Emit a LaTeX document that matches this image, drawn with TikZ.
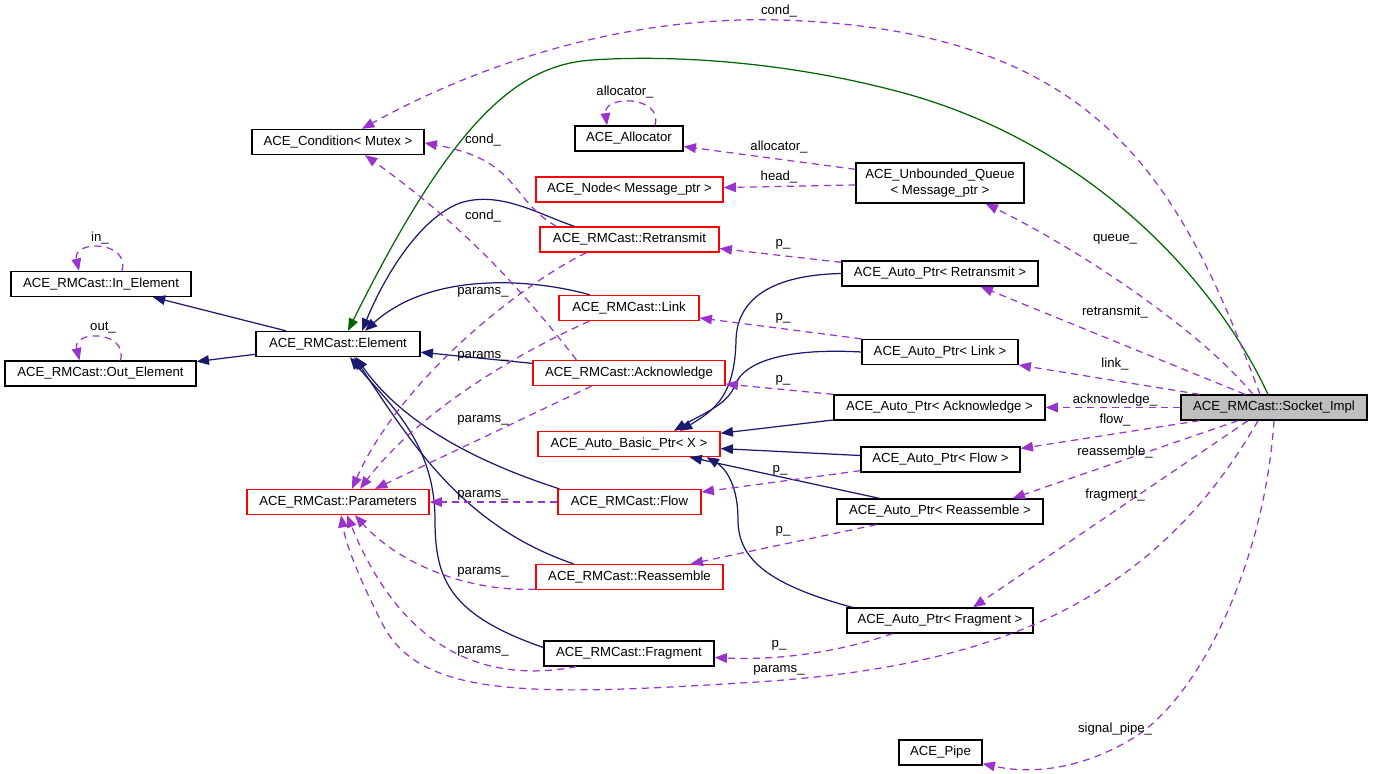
\documentclass[tikz,border=0pt]{standalone}
\usepackage{fontspec}
\setmainfont{Liberation Sans}
\usepackage{tikz}
\usetikzlibrary{arrows.meta,calc}
\definecolor{edgeblue}{RGB}{25,25,112}
\definecolor{edgepurple}{RGB}{154,50,205}
\definecolor{edgegreen}{RGB}{0,100,0}
\definecolor{boxred}{RGB}{255,0,0}
\definecolor{boxgray}{RGB}{191,191,191}

\begin{document}
\begin{tikzpicture}[x=0.02cm,y=-0.02cm,
		every node/.style={font=\fontsize{7.5}{9}\selectfont},
		cls/.style={draw=black,line width=0.75pt,minimum height=0.5cm,inner sep=0pt},
		redcls/.style={cls,draw=boxred},
		lbl/.style={inner sep=0pt},
		inh/.style={edgeblue,line width=0.7pt,-{Triangle[length=7pt,width=5.5pt]}},
		usage/.style={edgegreen,line width=0.7pt,-{Triangle[length=7pt,width=5.5pt]}},
		dep/.style={edgepurple,line width=0.7pt,dash pattern=on 4pt off 3pt,-{Triangle[length=7pt,width=5.5pt]}}]
			\useasboundingbox (0,0) rectangle (1373,774);
			% classes
			\node[cls,minimum width=3.44cm] (cond) at (338,142) {ACE\_Condition< Mutex >};
			\node[cls,minimum width=2.16cm] (alloc) at (629,138.5) {ACE\_Allocator};
			\node[redcls,minimum width=3.74cm] (msgnode) at (629.5,189.5) {ACE\_Node< Message\_ptr >};
			\node[redcls,minimum width=3.58cm] (retr) at (629.5,239.5) {ACE\_RMCast::Retransmit};
			\node[cls,minimum width=3.36cm,minimum height=0.8cm,align=center] (uq) at (940,183) {ACE\_Unbounded\_Queue\\< Message\_ptr >};
			\node[cls,minimum width=3.92cm] (apretr) at (940,273.5) {ACE\_Auto\_Ptr< Retransmit >};
			\node[redcls,minimum width=2.8cm] (link) at (629,308) {ACE\_RMCast::Link};
			\node[cls,minimum width=3.12cm] (aplink) at (940,352) {ACE\_Auto\_Ptr< Link >};
			\node[redcls,minimum width=3.84cm] (ack) at (629,373) {ACE\_RMCast::Acknowledge};
			\node[cls,minimum width=4.22cm] (apack) at (939.5,407.5) {ACE\_Auto\_Ptr< Acknowledge >};
			\node[redcls,minimum width=3.64cm] (abp) at (629,444) {ACE\_Auto\_Basic\_Ptr< X >};
			\node[cls,minimum width=3.18cm] (apflow) at (940.5,459.5) {ACE\_Auto\_Ptr< Flow >};
			\node[redcls,minimum width=2.86cm] (flow) at (629.5,502) {ACE\_RMCast::Flow};
			\node[redcls,minimum width=3.64cm] (params) at (338,502) {ACE\_RMCast::Parameters};
			\node[cls,minimum width=4.12cm] (apreas) at (940,511.5) {ACE\_Auto\_Ptr< Reassemble >};
			\node[redcls,minimum width=3.74cm] (reas) at (629.5,577) {ACE\_RMCast::Reassemble};
			\node[cls,minimum width=3.72cm] (apfrag) at (940,620.5) {ACE\_Auto\_Ptr< Fragment >};
			\node[cls,minimum width=3.4cm] (frag) at (629,653.5) {ACE\_RMCast::Fragment};
			\node[cls,minimum width=1.66cm] (pipe) at (940.5,752.5) {ACE\_Pipe};
			\node[cls,fill=boxgray,minimum width=3.72cm] (sock) at (1274,407.5) {ACE\_RMCast::Socket\_Impl};
			\node[cls,minimum width=3.28cm] (elem) at (338,344) {ACE\_RMCast::Element};
			\node[cls,minimum width=3.6cm] (inel) at (101,284) {ACE\_RMCast::In\_Element};
			\node[cls,minimum width=3.82cm] (outel) at (100.5,373.5) {ACE\_RMCast::Out\_Element};

			% inheritance
			\draw[usage] ($(sock.north)+(-6,0)$) .. controls (1210,270) and (1080,140) .. (900,92) .. controls (780,60) and (665,55) .. (592,60) .. controls (520,65) and (455,115) .. ($(elem.north)+(10,0)$);
			\draw[inh] (elem) -- (inel);
			\draw[inh] (elem) -- (outel);
			\draw[inh] ($(retr.north)+(-55,0)$) .. controls (540,215) and (500,190) .. (460,203) .. controls (420,218) and (385,275) .. ($(elem.north)+(24,0)$);
			\draw[inh] ($(link.north)+(-39,0)$) .. controls (530,278) and (430,272) .. ($(elem.north)+(27,0)$);
			\draw[inh] (ack) -- (elem);
			\draw[inh] ($(flow.north west)+(2,0)$) .. controls (470,460) and (400,420) .. ($(elem.south)+(18,0)$);
			\draw[inh] ($(reas.north)+(-56,0)$) .. controls (460,525) and (410,440) .. ($(elem.south)+(16,0)$);
			\draw[inh] ($(frag.west)+(0,-6)$) .. controls (450,615) and (435,580) .. (435,520) .. controls (435,440) and (385,400) .. ($(elem.south)+(12,0)$);
			\draw[inh] (apretr.west) .. controls (770,275) and (737,300) .. (736,340) .. controls (735,395) and (715,410) .. ($(abp.north)+(51,0)$);
			\draw[inh] (aplink.west) .. controls (790,348) and (745,360) .. (735,385) .. controls (728,405) and (700,415) .. ($(abp.north)+(45,0)$);
			\draw[inh] (apack) -- (abp);
			\draw[inh] (apflow) -- (abp);
			\draw[inh] (apreas) -- (abp);
			\draw[inh] ($(apfrag.north west)+(6,0)$) .. controls (770,585) and (738,560) .. (738,520) .. controls (738,480) and (722,466) .. ($(abp.south east)+(-14,0)$);

			% self loops
			\draw[dep] ($(inel.north)+(21,0)$) .. controls (130,240) and (72,240) .. ($(inel.north)+(-22,0)$);
			\draw[dep] ($(outel.north)+(20,0)$) .. controls (128,330) and (72,330) .. ($(outel.north)+(-21,0)$);
			\draw[dep] ($(alloc.north)+(26,0)$) .. controls (663,95) and (603,95) .. ($(alloc.north)+(-22,0)$);

			% members
			\draw[dep] ($(sock.north)+(-14,0)$) .. controls (1180,180) and (1100,30) .. (780,20) .. controls (600,15) and (450,80) .. ($(cond.north)+(24,0)$);
			\draw[dep] ($(retr.north west)+(17,0)$) .. controls (510,200) and (520,160) .. ($(cond.east)+(0,1)$);
			\draw[dep] ($(ack.north west)+(44,0)$) .. controls (530,300) and (470,230) .. ($(cond.south)+(27,0)$);
			\draw[dep] ($(uq.north west)+(0,7)$) -- ($(alloc.east)+(0,8)$);
			\draw[dep] ($(uq.west)+(0,2)$) -- ($(msgnode.east)+(0,-2)$);
			\draw[dep] ($(apretr.north west)+(0,2)$) -- ($(retr.east)+(0,9)$);
			\draw[dep] (aplink.north west) -- ($(link.east)+(0,10)$);
			\draw[dep] (apack.north west) -- ($(ack.east)+(0,11)$);
			\draw[dep] ($(apflow.south west)+(0,-2)$) -- ($(flow.east)+(0,-10)$);
			\draw[dep] ($(apreas.south west)+(40,0)$) -- ($(reas.north east)+(-33,0)$);
			\draw[dep] ($(apfrag.south west)+(46,0)$) .. controls (830,655) and (770,660) .. ($(frag.east)+(0,4)$);
			\draw[dep] ($(retr.south west)+(47,0)$) .. controls (520,285) and (400,380) .. ($(params.north)+(14,0)$);
			\draw[dep] ($(link.south west)+(31,0)$) .. controls (520,352) and (420,410) .. ($(params.north)+(22,0)$);
			\draw[dep] ($(ack.south west)+(59,0)$) -- ($(params.north)+(37,0)$);
			\draw[dep] (flow.west) -- (params.east);
			\draw[dep] ($(reas.south west)+(0,-1)$) .. controls (470,592) and (400,565) .. ($(params.south)+(17,0)$);
			\draw[dep] ($(frag.south west)+(33,0)$) .. controls (480,685) and (400,645) .. ($(params.south)+(9,0)$);
			\draw[dep] ($(sock.south)+(-16,0)$) .. controls (1150,610) and (980,670) .. (740,683) .. controls (520,697) and (420,695) .. (383,625) .. controls (365,590) and (347,550) .. ($(params.south)+(3,0)$);
			\draw[dep] ($(sock.north)+(-21,0)$) .. controls (1200,330) and (1080,250) .. ($(uq.south east)+(-39,0)$);
			\draw[dep] ($(sock.north)+(-29,0)$) -- ($(apretr.south east)+(-58,0)$);
			\draw[dep] ($(sock.north west)+(19,0)$) -- ($(aplink.east)+(0,13)$);
			\draw[dep] (sock.west) -- (apack.east);
			\draw[dep] ($(sock.south west)+(19,0)$) -- ($(apflow.east)+(0,-11)$);
			\draw[dep] ($(sock.south)+(-36,0)$) -- ($(apreas.north east)+(-31,0)$);
			\draw[dep] ($(sock.south)+(-26,0)$) -- ($(apfrag.north)+(33,0)$);
			\draw[dep] (sock.south) .. controls (1265,560) and (1200,700) .. (1130,740) .. controls (1070,775) and (1020,772) .. ($(pipe.south east)+(0,-2)$);

			% labels
			\node[lbl] (l_in) at (100,238) {in\_};
			\node[lbl] (l_out) at (103,328) {out\_};
			\node[lbl] (l_alloc1) at (625,92) {allocator\_};
			\node[lbl] (l_cond1) at (779,11) {cond\_};
			\node[lbl] (l_cond2) at (483,140) {cond\_};
			\node[lbl] (l_cond3) at (483,216) {cond\_};
			\node[lbl] (l_alloc2) at (779,147) {allocator\_};
			\node[lbl] (l_head) at (779,177) {head\_};
			\node[lbl] (l_p1) at (783,244) {p\_};
			\node[lbl] (l_p2) at (783,318) {p\_};
			\node[lbl] (l_p3) at (783,380) {p\_};
			\node[lbl] (l_p4) at (780,470) {p\_};
			\node[lbl] (l_p5) at (783,531) {p\_};
			\node[lbl] (l_p6) at (779,645) {p\_};
			\node[lbl] (l_par1) at (483,292) {params\_};
			\node[lbl] (l_par2) at (483,356) {params\_};
			\node[lbl] (l_par3) at (483,420) {params\_};
			\node[lbl] (l_par4) at (483,495) {params\_};
			\node[lbl] (l_par5) at (483,572) {params\_};
			\node[lbl] (l_par6) at (483,651) {params\_};
			\node[lbl] (l_par7) at (779,670) {params\_};
			\node[lbl] (l_queue) at (1115,239) {queue\_};
			\node[lbl] (l_retr) at (1115,312) {retransmit\_};
			\node[lbl] (l_link) at (1115,364) {link\_};
			\node[lbl] (l_ack) at (1115,400) {acknowledge\_};
			\node[lbl] (l_flow) at (1115,420) {flow\_};
			\node[lbl] (l_reas) at (1115,452) {reassemble\_};
			\node[lbl] (l_frag) at (1115,495) {fragment\_};
			\node[lbl] (l_pipe) at (1115,729) {signal\_pipe\_};
		\end{tikzpicture}
\end{document}
